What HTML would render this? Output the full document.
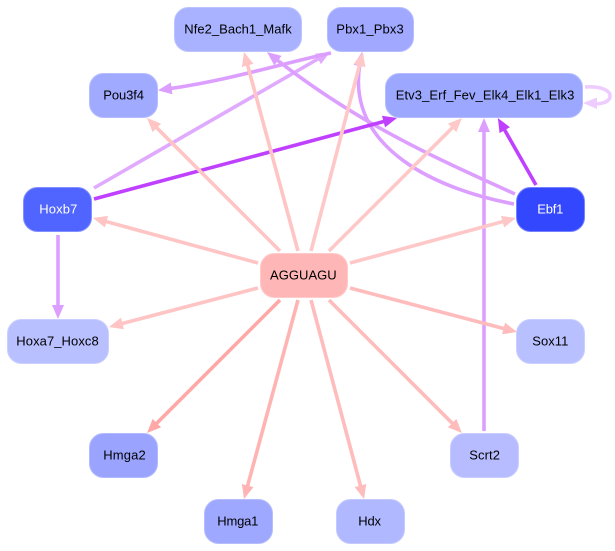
<!DOCTYPE html>
<html>
<head>
<meta charset="utf-8">
<style>
html,body{margin:0;padding:0;background:#fff;width:615px;height:551px;overflow:hidden}
svg{display:block}
text{font-family:"Liberation Sans",sans-serif;font-size:13px;fill:#000}
.e{fill:none;stroke-width:3.6}
.n{stroke-width:1}
</style>
</head>
<body>
<svg width="615" height="551" viewBox="0 0 615 551" xmlns="http://www.w3.org/2000/svg">
<defs>
<marker id="a1" markerUnits="userSpaceOnUse" markerWidth="15" markerHeight="12" refX="3" refY="6" orient="auto"><path d="M0,0L14,6L0,12Z" fill="#ffa8a8"/></marker>
<marker id="a2" markerUnits="userSpaceOnUse" markerWidth="15" markerHeight="12" refX="3" refY="6" orient="auto"><path d="M0,0L14,6L0,12Z" fill="#ffb4b4"/></marker>
<marker id="a3" markerUnits="userSpaceOnUse" markerWidth="15" markerHeight="12" refX="3" refY="6" orient="auto"><path d="M0,0L14,6L0,12Z" fill="#ffbcbc"/></marker>
<marker id="a4" markerUnits="userSpaceOnUse" markerWidth="15" markerHeight="12" refX="3" refY="6" orient="auto"><path d="M0,0L14,6L0,12Z" fill="#ffc4c4"/></marker>
<marker id="a5" markerUnits="userSpaceOnUse" markerWidth="15" markerHeight="12" refX="3" refY="6" orient="auto"><path d="M0,0L14,6L0,12Z" fill="#ffc8c8"/></marker>
<marker id="p1" markerUnits="userSpaceOnUse" markerWidth="15" markerHeight="12" refX="3" refY="6" orient="auto"><path d="M0,0L14,6L0,12Z" fill="#dd9fff"/></marker>
<marker id="p2" markerUnits="userSpaceOnUse" markerWidth="15" markerHeight="12" refX="3" refY="6" orient="auto"><path d="M0,0L14,6L0,12Z" fill="#e0aaff"/></marker>
<marker id="p3" markerUnits="userSpaceOnUse" markerWidth="15" markerHeight="12" refX="3" refY="6" orient="auto"><path d="M0,0L14,6L0,12Z" fill="#c040ff"/></marker>
</defs>

<!-- purple edges -->
<path class="e" stroke="#e0aaff" marker-end="url(#p2)" d="M94,188L320.5,57.5"/>
<path class="e" stroke="#dd9fff" marker-end="url(#p1)" d="M331,53C280,64 230,80 168.7,88.8"/>
<path class="e" stroke="#dd9fff" marker-end="url(#p1)" d="M515,194C440,160 360,125 275.6,58.8"/>
<path class="e" stroke="#dd9fff" marker-end="url(#p1)" d="M514,204C440,190 345,150 360,63"/>
<path class="e" stroke="#dd9fff" marker-end="url(#p1)" d="M58,235L58,308"/>
<path class="e" stroke="#dd9fff" marker-end="url(#p1)" d="M484,431L484,129"/>
<path class="e" stroke="#c040ff" marker-end="url(#p3)" d="M94,199L386.4,120.8"/>
<path class="e" stroke="#c040ff" marker-end="url(#p3)" d="M536,185L503.3,127.6"/>
<path class="e" stroke="#eeccff" d="M585,87C600,86 611,90 610,97C609,102 602,104 594,104"/>
<polygon points="583,103 597,97.5 597,109" fill="#eeccff"/>

<!-- pink edges -->
<path class="e" stroke="#ffc4c4" marker-end="url(#a4)" d="M258,263L103.6,220.9"/>
<path class="e" stroke="#ffc4c4" marker-end="url(#a4)" d="M258,288L119.6,324.2"/>
<path class="e" stroke="#ffa8a8" marker-end="url(#a1)" d="M280,300L154.8,425.2"/>
<path class="e" stroke="#ffb4b4" marker-end="url(#a2)" d="M298,300L246.9,488.4"/>
<path class="e" stroke="#ffbcbc" marker-end="url(#a3)" d="M311,300L361.2,488.4"/>
<path class="e" stroke="#ffbcbc" marker-end="url(#a3)" d="M329,300L454.2,425.2"/>
<path class="e" stroke="#ffbcbc" marker-end="url(#a3)" d="M350,288L506.4,329.2"/>
<path class="e" stroke="#ffc8c8" marker-end="url(#a5)" d="M350,263L505.4,220.9"/>
<path class="e" stroke="#ffc8c8" marker-end="url(#a5)" d="M329,251L454.2,125.8"/>
<path class="e" stroke="#ffc8c8" marker-end="url(#a5)" d="M311,251L360.2,62.6"/>
<path class="e" stroke="#ffc4c4" marker-end="url(#a4)" d="M298,251L246.9,62.6"/>
<path class="e" stroke="#ffc4c4" marker-end="url(#a4)" d="M280,251L154.8,125.8"/>

<!-- nodes -->
<rect class="n" x="174.5" y="7.5" width="127" height="44" rx="14" fill="#a8b2ff" stroke="#bcc3ff"/>
<text x="184.3" y="33.5" textLength="107.4">Nfe2_Bach1_Mafk</text>
<rect class="n" x="327.5" y="7.5" width="86" height="44" rx="14" fill="#a0a9ff" stroke="#b6bdff"/>
<text x="336.3" y="33.5" textLength="67.4">Pbx1_Pbx3</text>
<rect class="n" x="89.5" y="73.5" width="68" height="44" rx="14" fill="#a0aaff" stroke="#b6bdff"/>
<text x="103.3" y="99.5" textLength="40.7">Pou3f4</text>
<rect class="n" x="385.5" y="73.5" width="197" height="44" rx="14" fill="#9ca8ff" stroke="#b4bcff"/>
<text x="395.7" y="99.5" textLength="178.6">Etv3_Erf_Fev_Elk4_Elk1_Elk3</text>
<rect class="n" x="23.5" y="187.5" width="68" height="44" rx="14" fill="#5064ff" stroke="#8390ff"/>
<text x="39.3" y="213.5" textLength="38" style="fill:#fff">Hoxb7</text>
<rect class="n" x="516.5" y="187.5" width="68" height="44" rx="14" fill="#3347ff" stroke="#7682ff"/>
<text x="537.3" y="213.5" textLength="26" style="fill:#fff">Ebf1</text>
<rect class="n" x="260.5" y="253.5" width="87" height="44" rx="14" fill="#ffb6b6" stroke="#ffcaca"/>
<text x="270" y="279.5" textLength="66.7">AGGUAGU</text>
<rect class="n" x="7.5" y="319.5" width="101" height="44" rx="14" fill="#b8c0ff" stroke="#cacfff"/>
<text x="16.3" y="345.5" textLength="82.4">Hoxa7_Hoxc8</text>
<rect class="n" x="516.5" y="319.5" width="68" height="44" rx="14" fill="#b8c0ff" stroke="#cacfff"/>
<text x="532.3" y="345.5" textLength="36">Sox11</text>
<rect class="n" x="89.5" y="433.5" width="68" height="44" rx="14" fill="#9aa4ff" stroke="#b2baff"/>
<text x="103.3" y="459.5" textLength="42.4">Hmga2</text>
<rect class="n" x="450.5" y="433.5" width="68" height="44" rx="14" fill="#b6bcff" stroke="#c9cdff"/>
<text x="469.3" y="459.5" textLength="30.7">Scrt2</text>
<rect class="n" x="204.5" y="499.5" width="68" height="44" rx="14" fill="#9ea8ff" stroke="#b5bdff"/>
<text x="217.3" y="525.5" textLength="41">Hmga1</text>
<rect class="n" x="336.5" y="499.5" width="68" height="44" rx="14" fill="#b0b8ff" stroke="#c4caff"/>
<text x="358.3" y="525.5" textLength="22.7">Hdx</text>
</svg>
</body>
</html>
